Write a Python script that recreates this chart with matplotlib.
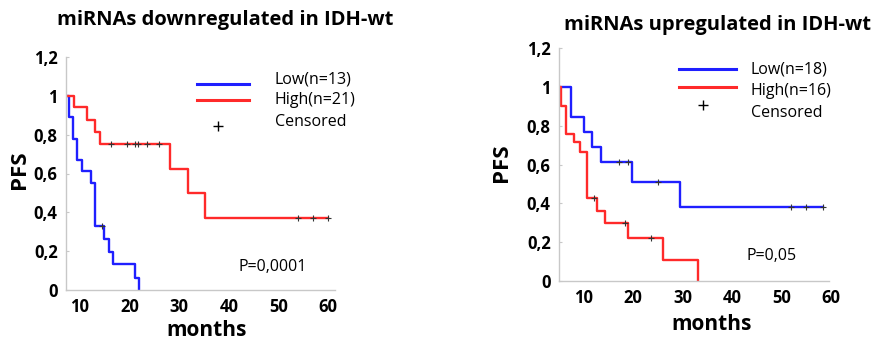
import numpy as np
import matplotlib
matplotlib.use("Agg")
import matplotlib.pyplot as plt

plt.rcParams['font.family'] = ['Open Sans', 'DejaVu Sans']

# ---- data ----
# left panel: miRNAs downregulated
down_low_t = [7.2, 7.9, 8.7, 9.5, 10.5, 12.2, 13.1, 14.9, 15.8, 16.7, 21.1, 22.0]
down_low_s = [1.0, 0.89, 0.777, 0.667, 0.613, 0.553, 0.331, 0.265, 0.196, 0.132, 0.063, 0.0]
down_low_cens_t = [14.5]
down_low_cens_s = [0.331]

down_high_t = [7.2, 8.85, 11.4, 13.1, 14.1, 28.2, 31.7, 35.2, 60.0]
down_high_s = [1.0, 0.94, 0.876, 0.816, 0.751, 0.624, 0.498, 0.373, 0.373]
down_high_cens_t = [16.2, 19.5, 21.2, 21.8, 23.5, 26.0, 54.0, 56.9, 60.0]
down_high_cens_s = [0.751, 0.751, 0.751, 0.751, 0.751, 0.751, 0.373, 0.373, 0.373]

# right panel: miRNAs upregulated
up_low_t = [5.05, 7.4, 10.0, 11.7, 13.5, 19.7, 29.5, 58.4]
up_low_s = [1.0, 0.843, 0.766, 0.689, 0.612, 0.509, 0.381, 0.381]
up_low_cens_t = [17.2, 18.9, 25.1, 52.0, 55.0, 58.4]
up_low_cens_s = [0.612, 0.612, 0.509, 0.381, 0.381, 0.381]

up_high_t = [5.05, 5.45, 6.5, 8.1, 9.2, 10.8, 12.7, 14.3, 18.9, 26.1, 33.1]
up_high_s = [1.0, 0.903, 0.757, 0.714, 0.663, 0.427, 0.36, 0.299, 0.222, 0.108, 0.0]
up_high_cens_t = [12.2, 18.4, 23.6]
up_high_cens_s = [0.427, 0.299, 0.222]

x_ticks = [10, 20, 30, 40, 50, 60]
y_ticks = [0, 0.2, 0.4, 0.6, 0.8, 1.0, 1.2]
y_tick_labels = ['0', '0,2', '0,4', '0,6', '0,8', '1', '1,2']

BLUE = '#1f1fff'
RED = '#ff2a2a'
GREY = '#c8c8c8'

W, H = 874, 341
fig = plt.figure(figsize=(W / 100, H / 100), dpi=100)


def px_axes(x0, x1, ytop, ybot):
    return fig.add_axes([x0 / W, 1 - ybot / H, (x1 - x0) / W, (ybot - ytop) / H])


def style(ax, xlim, spine_end):
    ax.set_xlim(*xlim)
    ax.set_ylim(0, 1.2)
    for s in ['top', 'right']:
        ax.spines[s].set_visible(False)
    for s in ['left', 'bottom']:
        ax.spines[s].set_color(GREY)
        ax.spines[s].set_linewidth(1.0)
    ax.spines['bottom'].set_bounds(xlim[0], spine_end)
    ax.set_xticks(x_ticks)
    ax.set_yticks(y_ticks)
    ax.set_yticklabels(y_tick_labels)
    ax.tick_params(axis='x', length=0, pad=6, labelsize=12)
    ax.tick_params(axis='y', direction='in', length=2.5, color=GREY,
                   pad=6, labelsize=12)
    for lab in ax.get_xticklabels() + ax.get_yticklabels():
        lab.set_fontweight('bold')


def curve(ax, t, s, ct, cs, color):
    ax.step(t, s, where='post', color=color, lw=1.7, zorder=2)
    ax.plot(ct, cs, ls='none', marker='+', ms=4.5, mew=0.8,
            color='#333333', zorder=3)


def legend(ax, x0, x1, xt, ys, labels, yt):
    ax.plot([x0, x1], [ys[0], ys[0]], color=BLUE, lw=2.2, clip_on=False)
    ax.plot([x0, x1], [ys[1], ys[1]], color=RED, lw=2.2, clip_on=False)
    ax.plot([(x0 + x1) / 2 - 1], [ys[2]], marker='+', ms=7, mew=1.0,
            color='black', clip_on=False)
    for y, lab in zip(yt, labels):
        ax.text(xt, y, lab, fontsize=11.5, va='center', ha='left')


# ---- left panel ----
ax1 = px_axes(66, 335, 57, 290)
style(ax1, (7.2, 61.4), 61.4)
curve(ax1, down_low_t, down_low_s, down_low_cens_t, down_low_cens_s, BLUE)
curve(ax1, down_high_t, down_high_s, down_high_cens_t, down_high_cens_s, RED)
legend(ax1, 33.6, 44.1, 49.3, [1.062, 0.976, 0.845],
       ['Low(n=13)', 'High(n=21)', 'Censored'], [1.085, 0.98, 0.865])
ax1.text(41.9, 0.119, 'P=0,0001', fontsize=11.5, va='center', ha='left')
ax1.set_ylabel('PFS', fontsize=16, fontweight='bold', va='center')
ax1.yaxis.set_label_coords(-0.172, 0.515)
ax1.set_xlabel('months', fontsize=15, fontweight='bold', va='center')
ax1.xaxis.set_label_coords(0.524, -0.175)
fig.text(225 / W, 1 - 20 / H, 'miRNAs downregulated in IDH-wt',
         fontsize=14.5, fontweight='bold', ha='center', va='center')

# ---- right panel ----
ax2 = px_axes(559, 834, 48, 281)
style(ax2, (5.05, 60.6), 59.6)
curve(ax2, up_low_t, up_low_s, up_low_cens_t, up_low_cens_s, BLUE)
curve(ax2, up_high_t, up_high_s, up_high_cens_t, up_high_cens_s, RED)
legend(ax2, 29.3, 40.8, 43.8, [1.091, 1.0, 0.908],
       ['Low(n=18)', 'High(n=16)', 'Censored'], [1.091, 0.98, 0.865])
ax2.text(43.0, 0.128, 'P=0,05', fontsize=11.5, va='center', ha='left')
ax2.set_ylabel('PFS', fontsize=16, fontweight='bold', va='center')
ax2.yaxis.set_label_coords(-0.21, 0.506)
ax2.set_xlabel('months', fontsize=15, fontweight='bold', va='center')
ax2.xaxis.set_label_coords(0.556, -0.185)
fig.text(718 / W, 1 - 25 / H, 'miRNAs upregulated in IDH-wt',
         fontsize=14.5, fontweight='bold', ha='center', va='center')

fig.savefig('out.png', dpi=100)
